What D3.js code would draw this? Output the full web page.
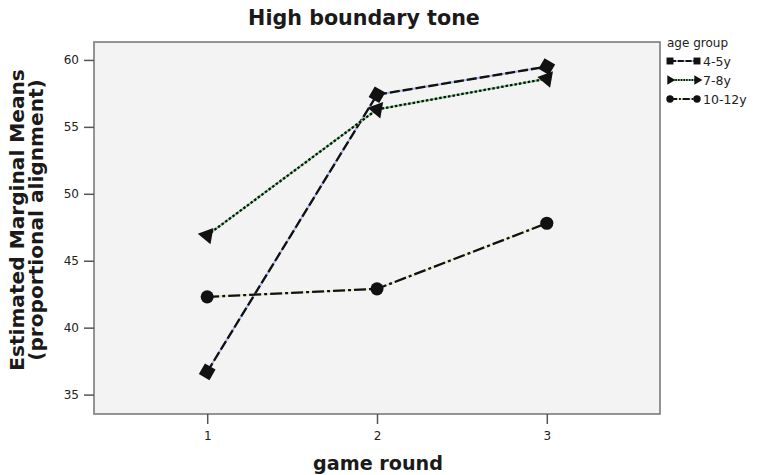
<!DOCTYPE html>
<html>
<head>
<meta charset="utf-8">
<script src="https://cdn.jsdelivr.net/npm/d3@7"></script>
<style>
  html, body { margin: 0; padding: 0; background: #fff; }
  svg { display: block; font-family: "DejaVu Sans", Verdana, sans-serif; }
</style>
</head>
<body>
<svg id="chart" width="779" height="475"></svg>
<script>
// Estimated marginal means by game round and age group
const rounds = [1, 2, 3];
const groups = ["4-5y", "7-8y", "10-12y"];
const means45 = [36.7, 57.4, 59.5];
const means78 = [46.9, 56.3, 58.6];
const means1012 = [42.3, 42.9, 47.8];
const yTicks = [35, 40, 45, 50, 55, 60];
const xTicks = [1, 2, 3];

const series = [
  { name: groups[0], values: means45, under: "#a9b6ee", dash: "10,3", symbol: d3.symbolSquare, size: 150, rot: 30 },
  { name: groups[1], values: means78, under: "#7ed48c", dash: "2.5,2", symbol: d3.symbolTriangle, size: 120, rot: 160 },
  { name: groups[2], values: means1012, under: "#ece6c2", dash: "12,3,3,3", symbol: d3.symbolCircle, size: 135, rot: 0 }
];

const svg = d3.select("#chart");
const plot = { left: 94, right: 660, top: 42, bottom: 414 };

const x = d3.scaleLinear().domain([1 / 3, 11 / 3]).range([plot.left, plot.right]);
const y = d3.scaleLinear().domain([33.55, 61.34]).range([plot.bottom, plot.top]);

// scale a text's font so that it spans the given width
function fitWidth(sel, width) {
  const w = sel.node().getComputedTextLength();
  const fs = parseFloat(sel.style("font-size"));
  sel.style("font-size", (fs * width / w).toFixed(2) + "px");
}

// plot frame
svg.append("rect")
  .attr("x", plot.left).attr("y", plot.top)
  .attr("width", plot.right - plot.left).attr("height", plot.bottom - plot.top)
  .attr("fill", "#f3f3f3").attr("stroke", "#7a7a7a").attr("stroke-width", 1.6);

// axes
const yAxis = svg.append("g")
  .attr("transform", `translate(${plot.left},0)`)
  .call(d3.axisLeft(y).tickValues(yTicks).tickSize(10).tickPadding(5));
const xAxis = svg.append("g")
  .attr("transform", `translate(0,${plot.bottom})`)
  .call(d3.axisBottom(x).tickValues(xTicks).tickFormat(d3.format("d")).tickSize(10).tickPadding(7));
[yAxis, xAxis].forEach(g => {
  g.select(".domain").remove();
  g.selectAll(".tick line").attr("stroke", "#555").attr("stroke-width", 1.5);
  g.selectAll(".tick text").attr("fill", "#222").style("font-size", "12px")
    .style("font-family", "'DejaVu Sans', sans-serif");
});

// series lines and markers
const line = d3.line().x((d, i) => x(rounds[i])).y(d => y(d));
series.forEach(s => {
  svg.append("path").attr("d", line(s.values))
    .attr("fill", "none").attr("stroke", s.under).attr("stroke-width", 2);
  svg.append("path").attr("d", line(s.values))
    .attr("fill", "none").attr("stroke", "#111").attr("stroke-width", 2.3)
    .attr("stroke-dasharray", s.dash);
});
series.forEach(s => {
  svg.selectAll(null).data(s.values).enter().append("path")
    .attr("d", d3.symbol().type(s.symbol).size(s.size))
    .attr("transform", (d, i) => `translate(${x(rounds[i])},${y(d)}) rotate(${s.rot})`)
    .attr("fill", "#111");
});

// titles
const title = svg.append("text").attr("x", 364).attr("y", 25).attr("text-anchor", "middle")
  .style("font-size", "18px").style("font-weight", "bold").attr("fill", "#1a1a1a")
  .text("High boundary tone");
fitWidth(title, 232);
const xl = svg.append("text").attr("x", 378).attr("y", 470).attr("text-anchor", "middle")
  .style("font-size", "18px").style("font-weight", "bold").attr("fill", "#1a1a1a")
  .text("game round");
fitWidth(xl, 130);
const yl = svg.append("text").attr("transform", "translate(0,220) rotate(-90)")
  .attr("text-anchor", "middle").style("font-size", "18px").style("font-weight", "bold")
  .attr("fill", "#1a1a1a");
const yl1 = yl.append("tspan").attr("x", 0).attr("y", 24).text("Estimated Marginal Means");
yl.append("tspan").attr("x", 0).attr("y", 43).text("(proportional alignment)");
{
  const w = yl1.node().getComputedTextLength();
  yl.style("font-size", (18 * 302 / w).toFixed(2) + "px");
}

// legend
const lg = svg.append("g").attr("transform", "translate(667,0)");
lg.append("text").attr("x", 0).attr("y", 47).style("font-size", "12px").attr("fill", "#222")
  .text("age group");
series.forEach((s, i) => {
  const cy = 61 + i * 19;
  const row = lg.append("g");
  row.append("line").attr("x1", 3).attr("x2", 30).attr("y1", cy).attr("y2", cy)
    .attr("stroke", s.under).attr("stroke-width", 2);
  row.append("line").attr("x1", 3).attr("x2", 30).attr("y1", cy).attr("y2", cy)
    .attr("stroke", "#111").attr("stroke-width", 2)
    .attr("stroke-dasharray", s.dash.split(",").map(v => v * 0.6).join(","));
  [3, 30].forEach(px => {
    row.append("path")
      .attr("d", d3.symbol().type(s.symbol).size(s.size * 0.32))
      .attr("transform", `translate(${px},${cy}) rotate(${s.symbol === d3.symbolTriangle ? 90 : 0})`)
      .attr("fill", "#111");
  });
  row.append("text").attr("x", 36).attr("y", cy + 4.5).style("font-size", "12.5px").attr("fill", "#222")
    .text(s.name);
});
</script>
</body>
</html>
